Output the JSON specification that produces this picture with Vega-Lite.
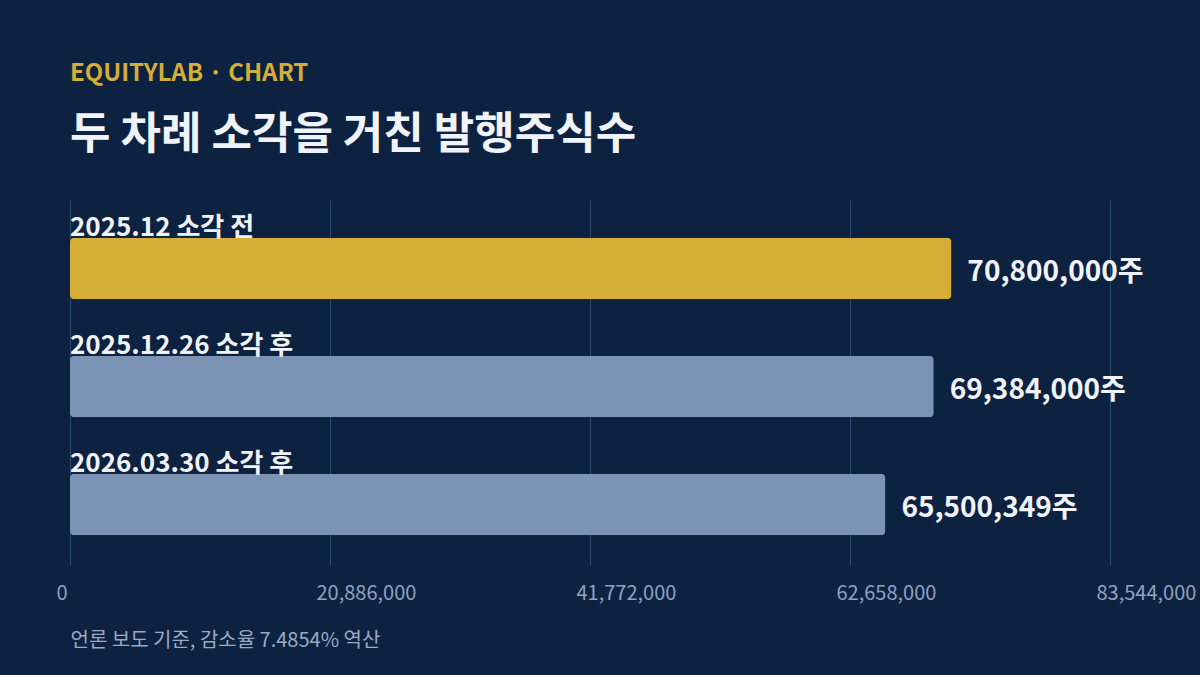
{
  "$schema": "https://vega.github.io/schema/vega-lite/v6.json",
  "width": 1040,
  "height": 365,
  "autosize": {"type": "none"},
  "padding": {"left": 70, "top": 200, "right": 90, "bottom": 110},
  "background": "#0d2140",
  "title": {
    "text": "EQUITYLAB · CHART",
    "subtitle": "두 차례 소각을 거친 발행주식수",
    "anchor": "start",
    "frame": "group",
    "offset": 42,
    "font": "Noto Sans CJK KR",
    "fontSize": 24,
    "fontWeight": "bold",
    "color": "#d4ae37",
    "subtitleFont": "Noto Sans CJK KR",
    "subtitleFontSize": 44,
    "subtitleFontWeight": "bold",
    "subtitleColor": "#f0f3fa",
    "subtitlePadding": 28
  },
  "data": {
    "values": [
      {"label": "2025.12 소각 전", "shares": 70800000, "stage": "전"},
      {"label": "2025.12.26 소각 후", "shares": 69384000, "stage": "후"},
      {"label": "2026.03.30 소각 후", "shares": 65500349, "stage": "후"}
    ]
  },
  "transform": [
    {"calculate": "format(datum.shares, ',') + '주'", "as": "shareText"}
  ],
  "encoding": {
    "y": {
      "field": "label",
      "type": "nominal",
      "sort": null,
      "axis": null,
      "scale": {"paddingInner": 0.479, "paddingOuter": 0.286, "align": 0.56}
    }
  },
  "layer": [
    {
      "mark": {"type": "bar", "cornerRadius": 4},
      "encoding": {
        "x": {
          "field": "shares",
          "type": "quantitative",
          "scale": {"domain": [0, 83544000], "nice": false},
          "axis": {
            "values": [0, 20886000, 41772000, 62658000, 83544000],
            "format": ",d",
            "title": "언론 보도 기준, 감소율 7.4854% 역산"
          }
        },
        "color": {
          "field": "stage",
          "type": "nominal",
          "scale": {"domain": ["전", "후"], "range": ["#d4ae37", "#7b93b5"]},
          "legend": null
        }
      }
    },
    {
      "mark": {
        "type": "text",
        "align": "left",
        "baseline": "alphabetic",
        "dy": -33,
        "font": "Noto Sans CJK KR",
        "fontSize": 26,
        "fontWeight": "bold",
        "color": "#f0f3fa"
      },
      "encoding": {
        "x": {
          "datum": 0,
          "type": "quantitative",
          "axis": {
            "values": [0, 20886000, 41772000, 62658000, 83544000],
            "format": ",d",
            "title": "언론 보도 기준, 감소율 7.4854% 역산"
          }
        },
        "text": {"field": "label"}
      }
    },
    {
      "mark": {
        "type": "text",
        "align": "left",
        "baseline": "middle",
        "dx": 16,
        "dy": 4,
        "font": "Noto Sans CJK KR",
        "fontSize": 28,
        "fontWeight": "bold",
        "color": "#f0f3fa"
      },
      "encoding": {
        "x": {
          "field": "shares",
          "type": "quantitative",
          "axis": {
            "values": [0, 20886000, 41772000, 62658000, 83544000],
            "format": ",d",
            "title": "언론 보도 기준, 감소율 7.4854% 역산"
          }
        },
        "text": {"field": "shareText"}
      }
    }
  ],
  "config": {
    "view": {"stroke": null},
    "numberFormat": ",d",
    "axisX": {
      "grid": true,
      "gridColor": "#2b4a6e",
      "gridWidth": 1,
      "domain": false,
      "ticks": false,
      "labelFont": "Noto Sans CJK KR",
      "labelFontSize": 20,
      "labelColor": "#8fa3bf",
      "labelAlign": "left",
      "labelOffset": -14,
      "labelBaseline": "top",
      "labelPadding": 18,
      "labelFlush": false,
      "labelOverlap": false,
      "titleFont": "Noto Sans CJK KR",
      "titleFontSize": 20,
      "titleFontWeight": "normal",
      "titleColor": "#9aaac2",
      "titleAnchor": "start",
      "titleAlign": "left",
      "titlePadding": 27
    }
  }
}
